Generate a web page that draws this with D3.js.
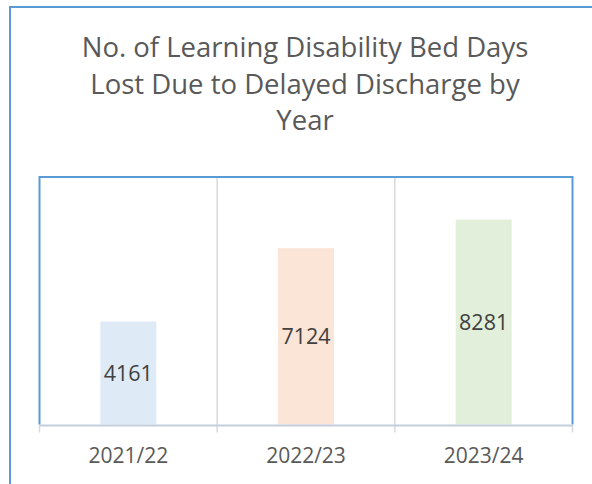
<!DOCTYPE html>
<html>
<head>
<meta charset="utf-8">
<script src="https://cdn.jsdelivr.net/npm/d3@7"></script>
<style>
  body { margin: 0; background: #fff; }
  svg { display: block; font-family: "Open Sans", sans-serif; }
</style>
</head>
<body>
<div id="chart"></div>
<script>
var titleLines = ["No. of Learning Disability Bed Days", "Lost Due to Delayed Discharge by", "Year"];
var years = ["2021/22", "2022/23", "2023/24"];
var bedDays = [4161, 7124, 8281];
var barColours = ["#DEEBF7", "#FBE5D6", "#E2EFDA"];

var width = 592, height = 484;
var plot = { left: 39.5, right: 572.5, top: 177, bottom: 424.5 };

var svg = d3.select("#chart")
  .append("svg")
    .attr("width", width)
    .attr("height", height);

// outer chart border, cut off at right and bottom
svg.append("rect")
  .attr("x", 10)
  .attr("y", 7)
  .attr("width", 700)
  .attr("height", 600)
  .attr("fill", "none")
  .attr("stroke", "#5B9BD5")
  .attr("stroke-width", 2);

var title = svg.append("text")
  .attr("text-anchor", "middle")
  .attr("fill", "#595959")
  .style("font-size", "27.5px");

title.selectAll("tspan")
  .data(titleLines)
  .enter()
  .append("tspan")
    .attr("x", 305)
    .attr("y", (d, i) => 57 + i * 36.5)
    .text(d => d);

var x = d3.scaleBand()
  .domain(years)
  .range([plot.left, plot.right]);

var y = d3.scaleLinear()
  .domain([0, 10000])
  .range([plot.bottom, plot.top]);

// vertical gridlines at band edges, running down as tick marks
svg.append("g")
  .selectAll("line")
  .data(years.slice(1))
  .enter()
  .append("line")
    .attr("x1", d => x(d))
    .attr("x2", d => x(d))
    .attr("y1", plot.top)
    .attr("y2", plot.bottom + 8)
    .attr("stroke", "#D9D9D9")
    .attr("stroke-width", 1.5);

[plot.left, plot.right].forEach(function (px) {
  svg.append("line")
    .attr("x1", px).attr("x2", px)
    .attr("y1", plot.bottom).attr("y2", plot.bottom + 8)
    .attr("stroke", "#D9D9D9")
    .attr("stroke-width", 1.5);
});

var barW = x.bandwidth() * 0.315;

svg.append("g")
  .selectAll("rect")
  .data(bedDays)
  .enter()
  .append("rect")
    .attr("x", (d, i) => x(years[i]) + x.bandwidth() / 2 - barW / 2)
    .attr("y", d => y(d))
    .attr("width", barW)
    .attr("height", d => y(0) - y(d))
    .attr("fill", (d, i) => barColours[i]);

svg.append("g")
  .selectAll("text")
  .data(bedDays)
  .enter()
  .append("text")
    .attr("x", (d, i) => x(years[i]) + x.bandwidth() / 2)
    .attr("y", d => (y(d) + y(0)) / 2)
    .attr("dy", "0.35em")
    .attr("text-anchor", "middle")
    .attr("fill", "#404040")
    .style("font-size", "21.5px")
    .text(d => d);

// plot area border (left, top, right) in blue
svg.append("path")
  .attr("d", "M" + plot.left + "," + plot.bottom + "V" + plot.top + "H" + plot.right + "V" + plot.bottom)
  .attr("fill", "none")
  .attr("stroke", "#5B9BD5")
  .attr("stroke-width", 2);

// category axis
var xAxis = svg.append("g")
  .attr("transform", "translate(0," + (plot.bottom + 0.5) + ")")
  .call(d3.axisBottom(x).tickSize(0).tickPadding(23));

xAxis.select(".domain")
  .attr("stroke", "#C4CEDD")
  .attr("stroke-width", 2);

xAxis.selectAll("text")
  .attr("fill", "#595959")
  .style("font-size", "21px")
  .style("font-family", "Open Sans, sans-serif");
</script>
</body>
</html>
